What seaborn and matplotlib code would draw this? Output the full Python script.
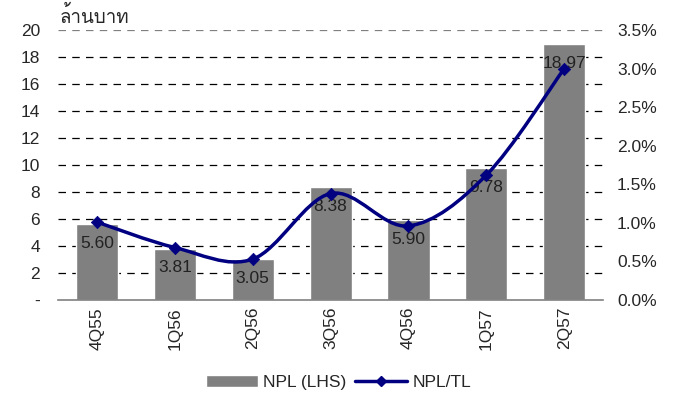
import matplotlib
matplotlib.use('Agg')
import matplotlib.pyplot as plt
import seaborn as sns
import numpy as np
from matplotlib import font_manager
from matplotlib.ft2font import FT2Font
from matplotlib.path import Path
from matplotlib.patches import PathPatch, Patch
from matplotlib.lines import Line2D
from matplotlib.ticker import FuncFormatter

# data
quarters = ['4Q55', '1Q56', '2Q56', '3Q56', '4Q56', '1Q57', '2Q57']
npl = [5.60, 3.81, 3.05, 8.38, 5.90, 9.78, 18.97]
npl_tl = [1.01, 0.68, 0.53, 1.38, 0.96, 1.62, 3.00]
left_ticks = [0, 2, 4, 6, 8, 10, 12, 14, 16, 18, 20]
right_ticks = [0.0, 0.5, 1.0, 1.5, 2.0, 2.5, 3.0, 3.5]
unit_label = 'ล้านบาท'


def find_family(text):
    # look for an installed font that actually has the Thai glyphs
    for f in font_manager.fontManager.ttflist:
        try:
            cmap = FT2Font(f.fname).get_charmap()
        except Exception:
            continue
        if all(ord(c) in cmap for c in text):
            return f.name
    return None


sns.set_style('white')
thai = find_family(unit_label)
fams = ['Liberation Sans', 'DejaVu Sans']
if thai:
    fams.append(thai)
plt.rcParams['font.family'] = fams

fig = plt.figure(figsize=(6.77, 3.94), dpi=100)
ax = fig.add_axes([0.0857, 0.2386, 0.8053, 0.6853])

sns.barplot(x=quarters, y=npl, color='#808080', saturation=1, width=0.54, ax=ax)
ax.set_ylim(0, 20)
ax.set_xlim(-0.5, len(quarters) - 0.5)
ax.set_yticks(left_ticks)
ax.set_yticklabels(['-'] + [str(t) for t in left_ticks[1:]], fontsize=12.5)
ax.tick_params(axis='y', length=0, pad=13)
ax.tick_params(axis='x', length=0, pad=5, labelsize=12.5, rotation=90)
for t in left_ticks[1:]:
    ax.axhline(t, color='#808080' if t == 20 else 'black', lw=0.9, ls=(0, (6, 5)), zorder=0)
for s in ['top', 'right', 'left']:
    ax.spines[s].set_visible(False)
ax.spines['bottom'].set_color('#808080')
ax.spines['bottom'].set_linewidth(1.2)
ax.set_xlabel('')
ax.set_ylabel('')

for i, v in enumerate(npl):
    ax.annotate(f'{v:.2f}', (i, v), xytext=(0, -14), textcoords='offset points',
                ha='center', va='center', fontsize=12.5, color='#222222', zorder=5)

ax.text(0.003, 1.012, unit_label, transform=ax.transAxes, fontsize=13.5, ha='left', va='bottom',
        family=[thai] if thai else fams)

# line on right axis, smoothed like the spreadsheet chart
ax2 = ax.twinx()
ax2.set_ylim(0, 3.5)
ax2.set_yticks(right_ticks)
ax2.yaxis.set_major_formatter(FuncFormatter(lambda v, p: f'{v:.1f}%'))
ax2.tick_params(axis='y', length=0, pad=10, labelsize=12.5)
for s in ['top', 'right', 'left', 'bottom']:
    ax2.spines[s].set_visible(False)

xs = np.arange(len(npl_tl), dtype=float)
ys = np.array(npl_tl)
pts = np.column_stack([xs, ys])
verts = [pts[0]]
codes = [Path.MOVETO]
for i in range(len(pts) - 1):
    p0 = pts[i - 1] if i > 0 else pts[i]
    p1, p2 = pts[i], pts[i + 1]
    p3 = pts[i + 2] if i + 2 < len(pts) else pts[i + 1]
    c1 = p1 + (p2 - p0) / 6
    c2 = p2 - (p3 - p1) / 6
    verts += [c1, c2, p2]
    codes += [Path.CURVE4] * 3
ax2.add_patch(PathPatch(Path(verts, codes), fill=False, edgecolor='#000080', lw=2.5, zorder=3))
sns.scatterplot(x=xs, y=ys, marker='D', s=40, color='#000080', edgecolor='#000080', ax=ax2, zorder=4)
ax2.set_xlim(-0.5, len(quarters) - 0.5)

handles = [Patch(facecolor='#808080', label='NPL (LHS)'),
           Line2D([0], [0], color='#000080', lw=2.5, marker='D', markersize=5, label='NPL/TL')]
fig.legend(handles=handles, loc='center', bbox_to_anchor=(0.5, 0.03), ncol=2, frameon=False,
           fontsize=12.5, handlelength=3, handletextpad=0.3, columnspacing=0.5)

fig.savefig('out.png', dpi=100)
